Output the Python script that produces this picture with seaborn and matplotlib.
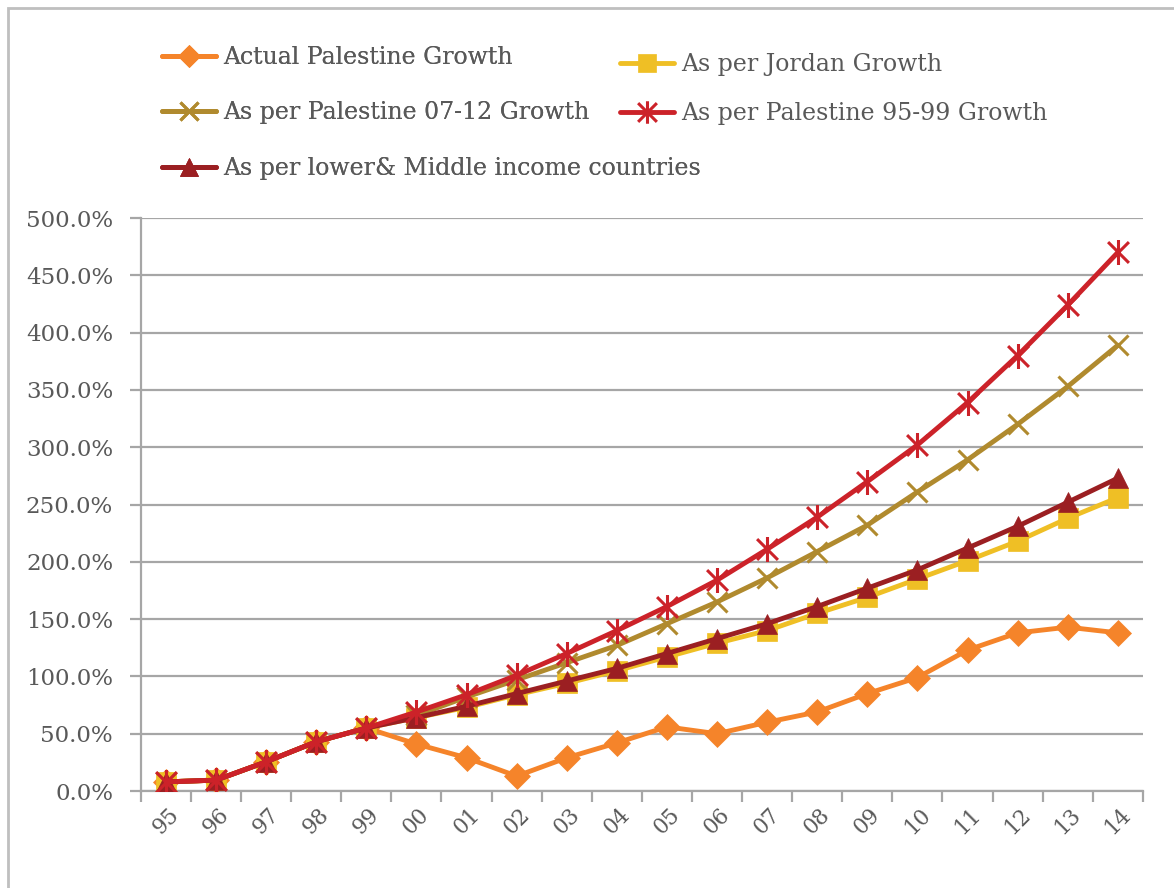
import numpy as np
import pandas as pd
import seaborn as sns
import matplotlib
matplotlib.use("Agg")
import matplotlib.pyplot as plt
from matplotlib.path import Path
from matplotlib.lines import Line2D
from matplotlib.patches import Rectangle
from matplotlib.ticker import FixedLocator, FuncFormatter

# ---- data -------------------------------------------------------------
years = ["95", "96", "97", "98", "99", "00", "01", "02", "03", "04",
         "05", "06", "07", "08", "09", "10", "11", "12", "13", "14"]

actual_palestine = [8, 9.5, 25.5, 43, 55, 41, 29, 13, 29, 42,
                    56, 50, 60, 69, 85, 99, 123, 138, 143, 138]
jordan = [8, 9.5, 25.5, 43, 55, 64, 73, 84, 94, 105,
          117, 129, 140, 155, 169, 185, 201, 218, 238, 256]
palestine_07_12 = [8, 9.5, 25.5, 43, 55, 66, 82, 97, 112, 127,
                   146, 165, 186, 209, 232, 261, 289, 320, 353, 389]
palestine_95_99 = [8, 9.5, 25.5, 43, 55, 69, 84, 101, 120, 140,
                   161, 184, 211, 239, 270, 302, 339, 380, 424, 470]
lower_middle = [8, 9.5, 25.5, 43, 55, 64, 74, 85, 96, 107,
                120, 133, 146, 161, 177, 193, 212, 231, 252, 273]

series_names = ["Actual Palestine Growth",
                "As per Jordan Growth",
                "As per Palestine 07-12 Growth",
                "As per Palestine 95-99 Growth",
                "As per lower& Middle income countries"]
series_values = [actual_palestine, jordan, palestine_07_12,
                 palestine_95_99, lower_middle]

# ---- styling ------------------------------------------------------------
sns.set_theme(style="white")
plt.rcParams["font.family"] = ["DejaVu Serif"]
text_grey = "#595959"
axis_grey = "#A6A6A6"

# asterisk marker: an x with a vertical stroke through it
star_path = Path(
    [(-0.5, -0.5), (0.5, 0.5), (-0.5, 0.5), (0.5, -0.5), (0, -0.6), (0, 0.6)],
    [Path.MOVETO, Path.LINETO, Path.MOVETO, Path.LINETO, Path.MOVETO, Path.LINETO],
)

styles = {
    "Actual Palestine Growth": dict(color="#F5842A", marker="D", ms=13,
                                    mfc="#F5842A", mec="#F5842A", mew=0.5),
    "As per Jordan Growth": dict(color="#EFBF25", marker="s", ms=15,
                                 mfc="#EFBF25", mec="#EFBF25", mew=0.5),
    "As per Palestine 07-12 Growth": dict(color="#B08A2E", marker="x", ms=14,
                                          mfc="none", mec="#B08A2E", mew=2.2),
    "As per Palestine 95-99 Growth": dict(color="#CC2229", marker=star_path, ms=18,
                                          mfc="none", mec="#CC2229", mew=2.2),
    "As per lower& Middle income countries": dict(color="#9B1F22", marker="^", ms=15,
                                                  mfc="#9B1F22", mec="#9B1F22", mew=0.5),
}
line_w = 3.5

rows = []
for name, vals in zip(series_names, series_values):
    for i, (yr, v) in enumerate(zip(years, vals)):
        rows.append({"pos": i, "year": yr, "series": name, "value": v})
df = pd.DataFrame(rows)

fig = plt.figure(figsize=(11.74, 8.88), dpi=100)
ax = fig.add_axes([0.120, 0.1092, 0.8535, 0.6453])

# drawing order: red projection stays on top
draw_order = ["Actual Palestine Growth", "As per Jordan Growth",
              "As per Palestine 07-12 Growth",
              "As per lower& Middle income countries",
              "As per Palestine 95-99 Growth"]
for z, name in enumerate(draw_order):
    st = styles[name]
    sub = df[df["series"] == name]
    sns.lineplot(data=sub, x="pos", y="value", ax=ax, color=st["color"],
                 linewidth=line_w, marker=st["marker"], markersize=st["ms"],
                 markerfacecolor=st["mfc"], markeredgecolor=st["mec"],
                 markeredgewidth=st["mew"], zorder=3 + z, legend=False)

# ---- axes ------------------------------------------------------------------
ax.set_xlim(-0.5, len(years) - 0.5)
ax.set_ylim(0, 500)
ax.set_xlabel("")
ax.set_ylabel("")

ax.yaxis.set_major_locator(FixedLocator(np.arange(0, 501, 50)))
ax.yaxis.set_major_formatter(FuncFormatter(lambda v, _: f"{v:.1f}%"))
ax.grid(axis="y", color=axis_grey, linewidth=1.6, zorder=0)
ax.grid(axis="x", visible=False)
ax.set_axisbelow(True)

ax.set_xticks(range(len(years)))
ax.set_xticklabels(years, rotation=45, ha="center", va="top")
ax.set_xticks(np.arange(-0.5, len(years) + 0.5, 1), minor=True)
ax.tick_params(axis="x", which="major", length=0, pad=9, labelsize=15.5,
               labelcolor=text_grey)
ax.tick_params(axis="x", which="minor", length=8, width=1.6, color=axis_grey,
               direction="out", bottom=True)
ax.tick_params(axis="y", which="major", length=8, width=1.6, color=axis_grey,
               direction="out", left=True, pad=12, labelsize=16.5,
               labelcolor=text_grey)

for side in ["top", "right"]:
    ax.spines[side].set_visible(False)
for side in ["left", "bottom"]:
    ax.spines[side].set_color(axis_grey)
    ax.spines[side].set_linewidth(1.6)

# ---- legend (two independent columns) ------------------------------------
handles = {}
for name in series_names:
    st = styles[name]
    handles[name] = Line2D([], [], color=st["color"], linewidth=line_w,
                           marker=st["marker"], markersize=st["ms"] * 0.9,
                           markerfacecolor=st["mfc"], markeredgecolor=st["mec"],
                           markeredgewidth=st["mew"])

legend_kw = dict(loc="upper left", frameon=False, fontsize=17,
                 handlelength=2.3, handletextpad=0.3, borderpad=0,
                 labelcolor=text_grey)

left_col = ["Actual Palestine Growth", "As per Palestine 07-12 Growth",
            "As per lower& Middle income countries"]
right_col = ["As per Jordan Growth", "As per Palestine 95-99 Growth"]

leg1 = fig.legend([handles[n] for n in left_col], left_col,
                  bbox_to_anchor=(150 / 1174, 1 - 34 / 888),
                  labelspacing=1.38, **legend_kw)
fig.add_artist(leg1)
leg2 = fig.legend([handles[n] for n in right_col], right_col,
                  bbox_to_anchor=(608 / 1174, 1 - 41 / 888),
                  labelspacing=1.1, **legend_kw)

# outer chart frame
fig.patches.append(Rectangle((8 / 1174, -0.05), 1.2, 1 - 8 / 888 + 0.05,
                             transform=fig.transFigure, fill=False,
                             edgecolor="#BFBFBF", linewidth=2, zorder=0))

fig.savefig("out.png", dpi=100)
